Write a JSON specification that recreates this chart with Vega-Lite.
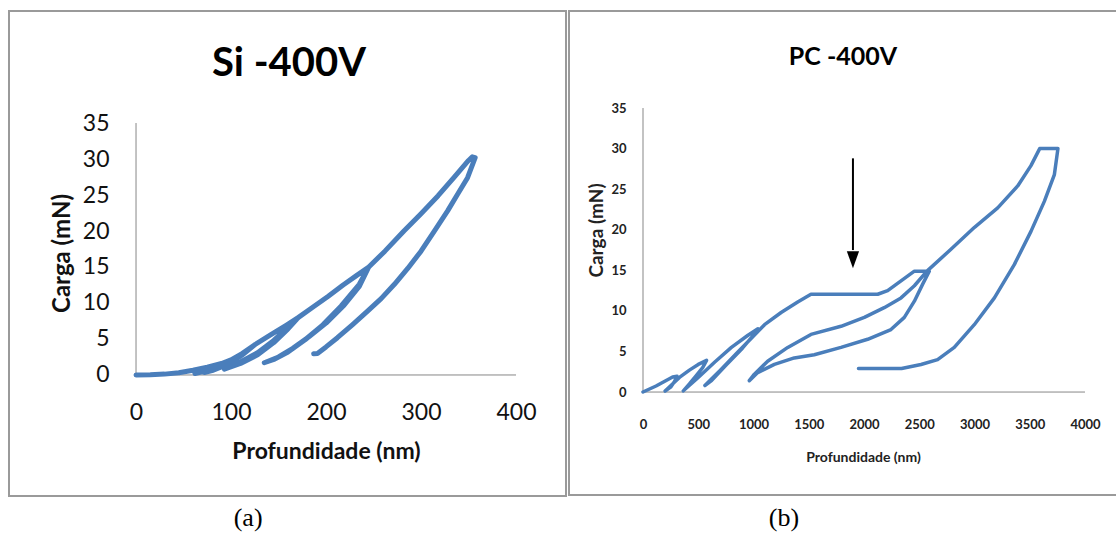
{
  "$schema": "https://vega.github.io/schema/vega-lite/v6.json",
  "padding": {"left": 8, "top": 10, "right": 0, "bottom": 0},
  "background": "white",
  "config": {
    "view": {"stroke": "#9a9a9a", "strokeWidth": 2},
    "font": "Lato"
  },
  "datasets": {
    "a": [
      {"i": 0, "x": 0, "y": 0}, {"i": 1, "x": 15, "y": 0.03}, {"i": 2, "x": 30, "y": 0.12}, {"i": 3, "x": 45, "y": 0.3},
      {"i": 4, "x": 60, "y": 0.65}, {"i": 5, "x": 75, "y": 1.1}, {"i": 6, "x": 90, "y": 1.6}, {"i": 7, "x": 100, "y": 2.1},
      {"i": 8, "x": 90, "y": 1.2}, {"i": 9, "x": 75, "y": 0.6}, {"i": 10, "x": 62, "y": 0.2},
      {"i": 11, "x": 75, "y": 0.7}, {"i": 12, "x": 90, "y": 1.4}, {"i": 13, "x": 100, "y": 2.1}, {"i": 14, "x": 112, "y": 3.0}, {"i": 15, "x": 125, "y": 4.2},
      {"i": 16, "x": 112, "y": 2.8}, {"i": 17, "x": 95, "y": 1.4}, {"i": 18, "x": 80, "y": 0.6}, {"i": 19, "x": 72, "y": 0.35},
      {"i": 20, "x": 85, "y": 0.9}, {"i": 21, "x": 100, "y": 1.8}, {"i": 22, "x": 112, "y": 2.9}, {"i": 23, "x": 125, "y": 4.2}, {"i": 24, "x": 142, "y": 5.6}, {"i": 25, "x": 158, "y": 6.9}, {"i": 26, "x": 171, "y": 8.0},
      {"i": 27, "x": 160, "y": 6.4}, {"i": 28, "x": 145, "y": 4.5}, {"i": 29, "x": 128, "y": 2.8}, {"i": 30, "x": 110, "y": 1.6}, {"i": 31, "x": 93, "y": 0.8},
      {"i": 32, "x": 110, "y": 1.8}, {"i": 33, "x": 128, "y": 3.1}, {"i": 34, "x": 145, "y": 4.8}, {"i": 35, "x": 160, "y": 6.6}, {"i": 36, "x": 171, "y": 8.0}, {"i": 37, "x": 186, "y": 9.4}, {"i": 38, "x": 202, "y": 10.9}, {"i": 39, "x": 218, "y": 12.5}, {"i": 40, "x": 232, "y": 13.8}, {"i": 41, "x": 245, "y": 15.0},
      {"i": 42, "x": 235, "y": 12.6}, {"i": 43, "x": 216, "y": 9.6}, {"i": 44, "x": 197, "y": 7.0}, {"i": 45, "x": 178, "y": 4.9}, {"i": 46, "x": 160, "y": 3.2}, {"i": 47, "x": 146, "y": 2.2}, {"i": 48, "x": 135, "y": 1.7},
      {"i": 49, "x": 150, "y": 2.5}, {"i": 50, "x": 165, "y": 3.7}, {"i": 51, "x": 182, "y": 5.3}, {"i": 52, "x": 200, "y": 7.2}, {"i": 53, "x": 219, "y": 9.7}, {"i": 54, "x": 235, "y": 12.3}, {"i": 55, "x": 245, "y": 15.0},
      {"i": 56, "x": 262, "y": 17.2}, {"i": 57, "x": 282, "y": 20.0}, {"i": 58, "x": 300, "y": 22.4}, {"i": 59, "x": 318, "y": 24.9}, {"i": 60, "x": 335, "y": 27.5}, {"i": 61, "x": 350, "y": 29.8}, {"i": 62, "x": 354, "y": 30.3}, {"i": 63, "x": 357, "y": 30.2},
      {"i": 64, "x": 349, "y": 27.4}, {"i": 65, "x": 338, "y": 25.0}, {"i": 66, "x": 328, "y": 22.8}, {"i": 67, "x": 314, "y": 20.0}, {"i": 68, "x": 300, "y": 17.2}, {"i": 69, "x": 286, "y": 14.8}, {"i": 70, "x": 272, "y": 12.6}, {"i": 71, "x": 258, "y": 10.6}, {"i": 72, "x": 244, "y": 8.9}, {"i": 73, "x": 228, "y": 7.0}, {"i": 74, "x": 212, "y": 5.18}, {"i": 75, "x": 200, "y": 3.9}, {"i": 76, "x": 191, "y": 3.0}, {"i": 77, "x": 187, "y": 2.95}
    ],
    "b": [
      {"i": 0, "x": 0, "y": 0}, {"i": 1, "x": 118, "y": 0.74}, {"i": 2, "x": 268, "y": 1.85}, {"i": 3, "x": 308, "y": 1.95},
      {"i": 4, "x": 285, "y": 1.3}, {"i": 5, "x": 250, "y": 0.6}, {"i": 6, "x": 200, "y": 0.12},
      {"i": 7, "x": 260, "y": 0.9}, {"i": 8, "x": 330, "y": 1.8}, {"i": 9, "x": 420, "y": 2.7}, {"i": 10, "x": 500, "y": 3.4}, {"i": 11, "x": 575, "y": 3.9},
      {"i": 12, "x": 540, "y": 3.0}, {"i": 13, "x": 480, "y": 2.0}, {"i": 14, "x": 420, "y": 1.0}, {"i": 15, "x": 365, "y": 0.15},
      {"i": 16, "x": 500, "y": 1.8}, {"i": 17, "x": 650, "y": 3.7}, {"i": 18, "x": 800, "y": 5.5}, {"i": 19, "x": 950, "y": 7.0}, {"i": 20, "x": 1040, "y": 7.8},
      {"i": 21, "x": 1000, "y": 7.0}, {"i": 22, "x": 900, "y": 5.4}, {"i": 23, "x": 750, "y": 3.3}, {"i": 24, "x": 620, "y": 1.4}, {"i": 25, "x": 560, "y": 0.8},
      {"i": 26, "x": 700, "y": 2.7}, {"i": 27, "x": 850, "y": 4.8}, {"i": 28, "x": 1000, "y": 6.9}, {"i": 29, "x": 1100, "y": 8.3}, {"i": 30, "x": 1250, "y": 9.8}, {"i": 31, "x": 1400, "y": 11.1}, {"i": 32, "x": 1520, "y": 12.05},
      {"i": 33, "x": 2124, "y": 12.05}, {"i": 34, "x": 2214, "y": 12.5}, {"i": 35, "x": 2335, "y": 13.7}, {"i": 36, "x": 2456, "y": 14.9}, {"i": 37, "x": 2591, "y": 14.9},
      {"i": 38, "x": 2531, "y": 13.3}, {"i": 39, "x": 2456, "y": 11.2}, {"i": 40, "x": 2365, "y": 9.2}, {"i": 41, "x": 2244, "y": 7.7}, {"i": 42, "x": 2033, "y": 6.5}, {"i": 43, "x": 1792, "y": 5.5}, {"i": 44, "x": 1550, "y": 4.6}, {"i": 45, "x": 1369, "y": 4.2}, {"i": 46, "x": 1189, "y": 3.4}, {"i": 47, "x": 1038, "y": 2.4}, {"i": 48, "x": 962, "y": 1.4},
      {"i": 49, "x": 1008, "y": 2.2}, {"i": 50, "x": 1128, "y": 3.8}, {"i": 51, "x": 1310, "y": 5.5}, {"i": 52, "x": 1520, "y": 7.1}, {"i": 53, "x": 1792, "y": 8.1}, {"i": 54, "x": 2003, "y": 9.2}, {"i": 55, "x": 2183, "y": 10.4}, {"i": 56, "x": 2335, "y": 11.6}, {"i": 57, "x": 2456, "y": 13.1}, {"i": 58, "x": 2570, "y": 14.9},
      {"i": 59, "x": 2787, "y": 17.6}, {"i": 60, "x": 3000, "y": 20.3}, {"i": 61, "x": 3210, "y": 22.7}, {"i": 62, "x": 3391, "y": 25.4}, {"i": 63, "x": 3511, "y": 27.9}, {"i": 64, "x": 3590, "y": 30.0}, {"i": 65, "x": 3755, "y": 30.0},
      {"i": 66, "x": 3723, "y": 26.8}, {"i": 67, "x": 3632, "y": 23.5}, {"i": 68, "x": 3511, "y": 19.8}, {"i": 69, "x": 3360, "y": 15.7}, {"i": 70, "x": 3180, "y": 11.6}, {"i": 71, "x": 2998, "y": 8.3}, {"i": 72, "x": 2817, "y": 5.5}, {"i": 73, "x": 2666, "y": 4.0}, {"i": 74, "x": 2516, "y": 3.4}, {"i": 75, "x": 2340, "y": 2.9}, {"i": 76, "x": 1950, "y": 2.9}
    ]
  },
  "hconcat": [
    {
      "width": 557,
      "height": 485,
      "layer": [
        {
          "data": {"values": [{}]},
          "mark": {"type": "rule", "color": "#878787", "strokeWidth": 1},
          "encoding": {
            "x": {"datum": 0, "type": "quantitative"},
            "x2": {"datum": 400},
            "y": {"datum": 0, "type": "quantitative"}
          }
        },
        {
          "data": {"values": [{}]},
          "mark": {"type": "rule", "color": "#878787", "strokeWidth": 1},
          "encoding": {
            "x": {"datum": 0, "type": "quantitative"},
            "y": {"datum": 0, "type": "quantitative"},
            "y2": {"datum": 35}
          }
        },
        {
          "data": {"name": "a"},
          "mark": {"type": "line", "color": "#4a7ebb", "strokeWidth": 5, "strokeCap": "round", "strokeJoin": "round"},
          "encoding": {
            "order": {"field": "i", "type": "quantitative"},
            "x": {
              "field": "x", "type": "quantitative",
              "scale": {"domain": [-133.7, 452.6], "nice": false, "zero": false},
              "axis": {
                "values": [0, 100, 200, 300, 400], "format": "d", "offset": -121, "domain": false, "ticks": false, "tickSize": 0, "grid": false,
                "labelPadding": 26, "labelFontSize": 23, "labelFont": "Lato", "labelColor": "#111",
                "title": "Profundidade (nm)", "titleFontSize": 23, "titleFont": "Lato", "titleFontWeight": "bold", "titleColor": "#111",
                "titleX": 317, "titleY": 76, "titleAlign": "center", "titleBaseline": "middle", "titleAngle": 0
              }
            },
            "y": {
              "field": "y", "type": "quantitative",
              "scale": {"domain": [-16.81, 50.56], "nice": false, "zero": false},
              "axis": {
                "values": [0, 5, 10, 15, 20, 25, 30, 35], "format": "d", "offset": -127, "domain": false, "ticks": false, "tickSize": 0, "grid": false,
                "labelPadding": 27, "labelFontSize": 23, "labelFont": "Lato", "labelColor": "#111",
                "title": "Carga (mN)", "titleFontSize": 24, "titleFont": "Lato", "titleFontWeight": "bold", "titleColor": "#111",
                "titleX": -74, "titleY": 242, "titleAlign": "center", "titleBaseline": "middle", "titleAngle": -90
              }
            }
          }
        },
        {
          "data": {"values": [{"label": "Si -400V"}]},
          "mark": {"type": "text", "font": "Lato", "fontWeight": "bold", "fontSize": 40, "color": "#000", "align": "center", "baseline": "middle"},
          "encoding": {
            "x": {"datum": 161, "type": "quantitative"},
            "y": {"datum": 43.2, "type": "quantitative"},
            "text": {"field": "label"}
          }
        },
        {
          "data": {"values": [{"label": "(a)"}]},
          "mark": {"type": "text", "font": "Liberation Serif", "fontSize": 26, "color": "#000", "align": "center", "baseline": "middle"},
          "encoding": {
            "x": {"datum": 118, "type": "quantitative"},
            "y": {"datum": -19.9, "type": "quantitative"},
            "text": {"field": "label"}
          }
        }
      ]
    },
    {
      "width": 548,
      "height": 484,
      "layer": [
        {
          "data": {"values": [{}]},
          "mark": {"type": "rule", "color": "#878787", "strokeWidth": 1},
          "encoding": {
            "x": {"datum": 0, "type": "quantitative"},
            "x2": {"datum": 4000},
            "y": {"datum": 0, "type": "quantitative"}
          }
        },
        {
          "data": {"values": [{}]},
          "mark": {"type": "rule", "color": "#878787", "strokeWidth": 1},
          "encoding": {
            "x": {"datum": 0, "type": "quantitative"},
            "y": {"datum": 0, "type": "quantitative"},
            "y2": {"datum": 35}
          }
        },
        {
          "data": {"name": "b"},
          "mark": {"type": "line", "color": "#4a7ebb", "strokeWidth": 3.5, "strokeCap": "round", "strokeJoin": "round"},
          "encoding": {
            "order": {"field": "i", "type": "quantitative"},
            "x": {
              "field": "x", "type": "quantitative",
              "scale": {"domain": [-669.7, 4289.6], "nice": false, "zero": false},
              "axis": {
                "values": [0, 500, 1000, 1500, 2000, 2500, 3000, 3500, 4000], "format": "d", "offset": -103, "domain": false, "ticks": false, "tickSize": 0, "grid": false,
                "labelPadding": 26, "labelFontSize": 13, "labelFont": "Lato", "labelFontWeight": "bold", "labelColor": "#222",
                "title": "Profundidade (nm)", "titleFontSize": 14, "titleFont": "Lato", "titleFontWeight": "bold", "titleColor": "#222",
                "titleX": 294, "titleY": 65, "titleAlign": "center", "titleBaseline": "middle", "titleAngle": 0
              }
            },
            "y": {
              "field": "y", "type": "quantitative",
              "scale": {"domain": [-12.69, 46.96], "nice": false, "zero": false},
              "axis": {
                "values": [0, 5, 10, 15, 20, 25, 30, 35], "format": "d", "offset": -74, "domain": false, "ticks": false, "tickSize": 0, "grid": false,
                "labelPadding": 17, "labelFontSize": 13, "labelFont": "Lato", "labelFontWeight": "bold", "labelColor": "#222",
                "title": "Carga (mN)", "titleFontSize": 19, "titleFont": "Lato", "titleFontWeight": "bold", "titleColor": "#222",
                "titleX": -47, "titleY": 219, "titleAlign": "center", "titleBaseline": "middle", "titleAngle": -90
              }
            }
          }
        },
        {
          "data": {"values": [{}]},
          "mark": {"type": "rule", "color": "#000", "strokeWidth": 2},
          "encoding": {
            "x": {"datum": 1900, "type": "quantitative"},
            "y": {"datum": 28.8, "type": "quantitative"},
            "y2": {"datum": 17.5}
          }
        },
        {
          "data": {"values": [{}]},
          "mark": {"type": "point", "shape": "M-0.72,-1L0.72,-1L0,1Z", "size": 289, "filled": true, "color": "#000", "opacity": 1},
          "encoding": {
            "x": {"datum": 1900, "type": "quantitative"},
            "y": {"datum": 16.3, "type": "quantitative"}
          }
        },
        {
          "data": {"values": [{"label": "PC -400V"}]},
          "mark": {"type": "text", "font": "Lato", "fontWeight": "bold", "fontSize": 25, "color": "#000", "align": "center", "baseline": "middle"},
          "encoding": {
            "x": {"datum": 1810, "type": "quantitative"},
            "y": {"datum": 41.3, "type": "quantitative"},
            "text": {"field": "label"}
          }
        },
        {
          "data": {"values": [{"label": "(b)"}]},
          "mark": {"type": "text", "font": "Liberation Serif", "fontSize": 26, "color": "#000", "align": "center", "baseline": "middle"},
          "encoding": {
            "x": {"datum": 1276, "type": "quantitative"},
            "y": {"datum": -15.5, "type": "quantitative"},
            "text": {"field": "label"}
          }
        }
      ]
    }
  ],
  "spacing": 3,
  "bounds": "flush"
}
